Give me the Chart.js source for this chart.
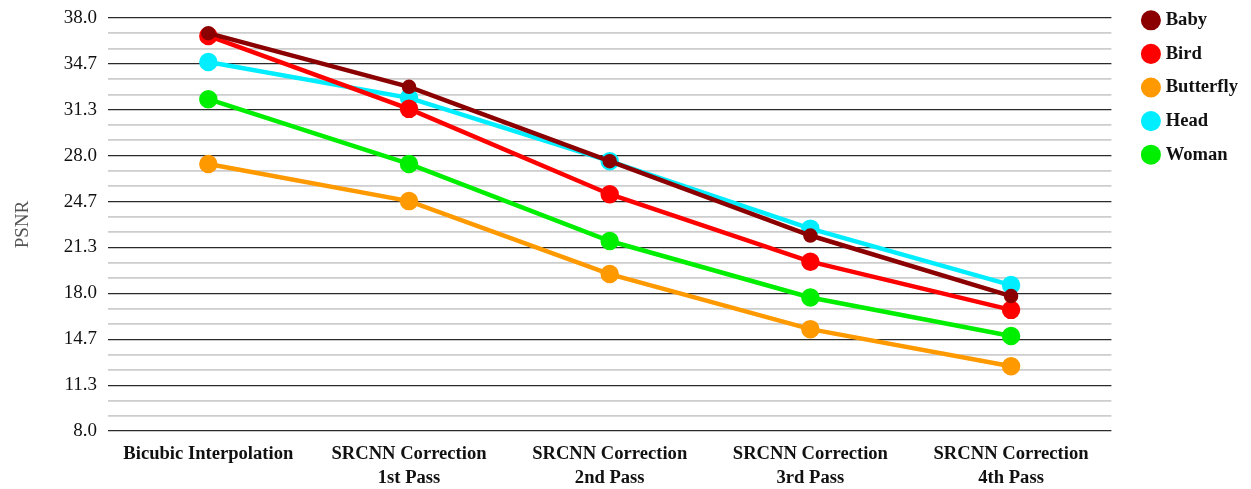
<!DOCTYPE html>
<html>
<head>
<meta charset="utf-8">
<script src="https://cdn.jsdelivr.net/npm/chart.js@4.4.1/dist/chart.umd.min.js"></script>
<style>
  html, body { margin: 0; padding: 0; background: #fff; }
  #wrap { width: 1251px; height: 489px; }
</style>
</head>
<body>
<div id="wrap"><canvas id="psnrChart"></canvas></div>
<script>
const categories = [
    'Bicubic Interpolation',
    ['SRCNN Correction', '1st Pass'],
    ['SRCNN Correction', '2nd Pass'],
    ['SRCNN Correction', '3rd Pass'],
    ['SRCNN Correction', '4th Pass']
];
const baby = [36.9, 33.0, 27.6, 22.2, 17.8];
const bird = [36.7, 31.4, 25.2, 20.3, 16.8];
const butterfly = [27.4, 24.7, 19.4, 15.4, 12.7];
const head = [34.8, 32.2, 27.6, 22.7, 18.6];
const woman = [32.1, 27.4, 21.8, 17.7, 14.9];
const yMin = 8;
const yMax = 38;

const serif = '"Liberation Serif", "DejaVu Serif", serif';

const makeSet = (label, data, color, radius) => ({
    label,
    data,
    borderColor: color,
    backgroundColor: color,
    borderWidth: 4.5,
    pointRadius: radius,
    pointHoverRadius: radius,
    pointStyle: 'circle',
    tension: 0
});

// legend sits a bit away from the plot and higher up than chart.js puts it
const legendNudge = {
    id: 'legendNudge',
    beforeInit(chart) {
        const fit = chart.legend.fit;
        chart.legend.fit = function () {
            fit.call(this);
            this.width += 22;
        };
    },
    afterLayout(chart) {
        const lg = chart.legend;
        lg.left += 19;
        lg.right += 19;
        lg.top -= 22;
        lg.bottom -= 22;
    }
};

const ctx = document.getElementById('psnrChart').getContext('2d');
new Chart(ctx, {
    type: 'line',
    data: {
        labels: categories,
        datasets: [
            makeSet('Baby', baby, '#8b0000', 5),
            makeSet('Bird', bird, '#ff0000', 7),
            makeSet('Butterfly', butterfly, '#ff9900', 7),
            makeSet('Head', head, '#00eeff', 7),
            makeSet('Woman', woman, '#00ee00', 7)
        ]
    },
    plugins: [legendNudge],
    options: {
        responsive: true,
        maintainAspectRatio: false,
        animation: false,
        layout: {padding: {top: 18, right: 0, bottom: 0, left: 8}},
        scales: {
            x: {
                offset: true,
                grid: {display: false},
                border: {display: false},
                afterFit: s => { s.height = 58; },
                ticks: {
                    color: '#111',
                    font: {family: serif, size: 18.6, weight: 'bold', lineHeight: 1.3},
                    maxRotation: 0,
                    padding: 3
                }
            },
            y: {
                min: yMin,
                max: yMax,
                border: {display: false},
                afterFit: s => { s.width = 100; },
                grid: {
                    drawTicks: true,
                    tickLength: 8,
                    tickColor: 'rgba(0,0,0,0)',
                    lineWidth: c => (c.index % 3 === 0 ? 1.2 : 1.8),
                    color: c => (c.index % 3 === 0 ? '#2a2a2a' : '#cdcdcd')
                },
                ticks: {
                    stepSize: (yMax - yMin) / 27,
                    autoSkip: false,
                    color: '#111',
                    font: {family: serif, size: 19},
                    padding: 3,
                    callback: function (value, index) {
                        return index % 3 === 0 ? value.toFixed(1) : '';
                    }
                },
                title: {
                    display: true,
                    text: 'PSNR',
                    color: '#555',
                    font: {family: serif, size: 19},
                    padding: {bottom: 14}
                }
            }
        },
        plugins: {
            legend: {
                position: 'right',
                align: 'start',
                labels: {
                    usePointStyle: true,
                    pointStyle: 'circle',
                    boxWidth: 11,
                    boxHeight: 11,
                    padding: 15,
                    color: '#111',
                    font: {family: serif, size: 18.6, weight: 'bold'}
                }
            },
            tooltip: {enabled: false}
        }
    }
});
</script>
</body>
</html>
